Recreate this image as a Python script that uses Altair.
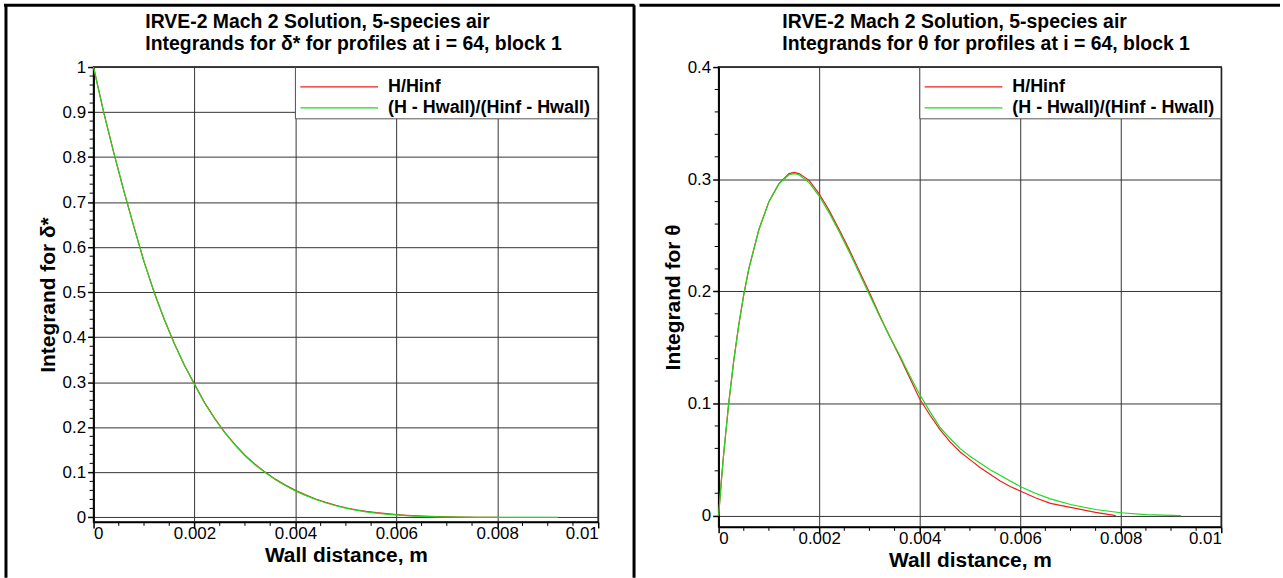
import altair as alt
import pandas as pd

# ---------------- data ----------------
# Left panel: integrand for delta*
left_green_x = [0, 0.0001, 0.0002, 0.0004, 0.0006, 0.0008, 0.001, 0.0012, 0.0014, 0.0016,
                0.0018, 0.002, 0.0022, 0.0024, 0.0026, 0.0028, 0.003, 0.0032, 0.0034, 0.0036,
                0.0038, 0.004, 0.0042, 0.0044, 0.0046, 0.0048, 0.005, 0.0052, 0.0054, 0.0056,
                0.0058, 0.006, 0.0062, 0.0065, 0.0068, 0.0072, 0.0076, 0.008, 0.0085, 0.0092]
left_green_y = [1.0, 0.95, 0.90, 0.81, 0.725, 0.645, 0.568, 0.50, 0.44, 0.386,
                0.338, 0.295, 0.254, 0.219, 0.188, 0.161, 0.137, 0.117, 0.0996, 0.084,
                0.0707, 0.059, 0.049, 0.040, 0.0325, 0.026, 0.0205, 0.016, 0.0125, 0.0096,
                0.0073, 0.0055, 0.004, 0.0025, 0.0014, 0.0006, 0.0002, 0.0001, 0.0, 0.0]
left_red_x = [0, 0.0001, 0.0002, 0.0004, 0.0006, 0.0008, 0.001, 0.0012, 0.0014, 0.0016,
              0.0018, 0.002, 0.0022, 0.0024, 0.0026, 0.0028, 0.003, 0.0032, 0.0034, 0.0036,
              0.0038, 0.004, 0.0042, 0.0044, 0.0046, 0.0048, 0.005, 0.0052, 0.0054, 0.0056,
              0.0058, 0.006, 0.0062, 0.0065, 0.0068, 0.0072, 0.0076, 0.008]
left_red_y = [1.0, 0.95, 0.90, 0.81, 0.725, 0.645, 0.568, 0.50, 0.44, 0.386,
              0.338, 0.296, 0.255, 0.220, 0.189, 0.162, 0.138, 0.118, 0.1006, 0.085,
              0.0717, 0.060, 0.050, 0.041, 0.0335, 0.027, 0.0215, 0.017, 0.0135, 0.0106,
              0.0083, 0.0063, 0.0047, 0.003, 0.0017, 0.0008, 0.0003, 0.0]

# Right panel: integrand for theta
right_green_x = [0, 0.00005, 0.0001, 0.0002, 0.0003, 0.0004, 0.0005, 0.0006, 0.0008, 0.001,
                 0.0012, 0.0014, 0.0015, 0.0016, 0.0018, 0.002, 0.0022, 0.0024, 0.0026, 0.0028,
                 0.003, 0.0032, 0.0034, 0.0036, 0.0038, 0.004, 0.0042, 0.0044, 0.0046, 0.0048,
                 0.005, 0.0052, 0.0054, 0.0056, 0.0058, 0.006, 0.0063, 0.0066, 0.007, 0.0075,
                 0.008, 0.0085, 0.0092]
right_green_y = [0.0, 0.029, 0.055, 0.1, 0.138, 0.17, 0.197, 0.22, 0.255, 0.28,
                 0.296, 0.304, 0.305, 0.304, 0.297, 0.285, 0.27, 0.253, 0.235, 0.216,
                 0.197, 0.178, 0.16, 0.143, 0.125, 0.108, 0.093, 0.079, 0.069, 0.06,
                 0.053, 0.047, 0.041, 0.036, 0.031, 0.026, 0.02, 0.015, 0.01, 0.0055,
                 0.0026, 0.001, 0.0]
right_red_x = [0, 0.00005, 0.0001, 0.0002, 0.0003, 0.0004, 0.0005, 0.0006, 0.0008, 0.001,
               0.0012, 0.0014, 0.0015, 0.0016, 0.0018, 0.002, 0.0022, 0.0024, 0.0026, 0.0028,
               0.003, 0.0032, 0.0034, 0.0036, 0.0038, 0.004, 0.0042, 0.0044, 0.0046, 0.0048,
               0.005, 0.0052, 0.0054, 0.0056, 0.0058, 0.006, 0.0063, 0.0066, 0.007, 0.0075,
               0.0079]
right_red_y = [0.0, 0.029, 0.055, 0.1, 0.138, 0.17, 0.197, 0.22, 0.255, 0.28,
               0.296, 0.305, 0.306, 0.305, 0.299, 0.287, 0.272, 0.255, 0.237, 0.218,
               0.199, 0.179, 0.16, 0.142, 0.123, 0.104, 0.09, 0.077, 0.066, 0.057,
               0.05, 0.043, 0.037, 0.031, 0.026, 0.022, 0.016, 0.011, 0.0074, 0.003,
               0.0]

x_ticks = [0, 0.002, 0.004, 0.006, 0.008, 0.01]
left_y_ticks = [0, 0.1, 0.2, 0.3, 0.4, 0.5, 0.6, 0.7, 0.8, 0.9, 1]
right_y_ticks = [0, 0.1, 0.2, 0.3, 0.4]

legend_labels = ["H/Hinf", "(H - Hwall)/(Hinf - Hwall)"]
series_colors = ["#f01c1c", "#1fd81f"]

left_title = ["IRVE-2 Mach 2 Solution, 5-species air",
              "Integrands for \u03b4* for profiles at i = 64, block 1"]
right_title = ["IRVE-2 Mach 2 Solution, 5-species air",
               "Integrands for \u03b8 for profiles at i = 64, block 1"]
left_ytitle = "Integrand for \u03b4*"
right_ytitle = "Integrand for \u03b8"
x_title = "Wall distance, m"

# ---------------- layout ----------------
FONT = "Liberation Sans"
TOP = 65   # canvas y of both plot areas' top edge


def minor_values(lo, hi, step, majors):
    n = int(round((hi - lo) / step))
    vals = [round(lo + i * step, 6) for i in range(n + 1)]
    return [v for v in vals if all(abs(v - m) > 1e-9 for m in majors)]


def one():
    return pd.DataFrame({"a": [0]})


def panel(gx, gy, rx, ry, ymax, yticks, ytitle, title_lines, W, H, ox, cell, first):
    oy = TOP
    cx0, cx1 = cell            # canvas x extent of this panel's cell

    xs = alt.Scale(domain=[0, 0.01], nice=False, zero=False)
    ys = alt.Scale(domain=[-0.01, ymax], nice=False, zero=False)
    xaxis = alt.Axis(values=x_ticks, format="~g", title=x_title, grid=True,
                     labelPadding=-2, titlePadding=3)
    yaxis = alt.Axis(values=yticks, format="~g", title=ytitle, grid=True,
                     labelPadding=2, titlePadding=4)

    red = pd.DataFrame({"x": rx, "y": ry})
    green = pd.DataFrame({"x": gx, "y": gy})
    red_line = alt.Chart(red).mark_line(color=series_colors[0], strokeWidth=1.2).encode(
        x=alt.X("x:Q", scale=xs, axis=xaxis), y=alt.Y("y:Q", scale=ys, axis=yaxis))
    green_line = alt.Chart(green).mark_line(color=series_colors[1], strokeWidth=1.2).encode(
        x=alt.X("x:Q"), y=alt.Y("y:Q"))

    xm = pd.DataFrame({"v": minor_values(0, 0.01, 0.0005, x_ticks)})
    ym = pd.DataFrame({"v": minor_values(0, ymax, 0.02, yticks)})
    x_minor = alt.Chart(xm).mark_rule(color="black", strokeWidth=1).encode(
        x="v:Q", y=alt.value(H), y2=alt.value(H + 4))
    y_minor = alt.Chart(ym).mark_rule(color="black", strokeWidth=1).encode(
        y="v:Q", x=alt.value(0), x2=alt.value(-4))

    # legend box (top-right corner of the plot, from the 0.004 gridline)
    lx0 = 0.4 * W
    box = alt.Chart(one()).mark_rect(fill="white", stroke=None).encode(
        x=alt.value(lx0 + 0.5), x2=alt.value(W - 1), y=alt.value(1), y2=alt.value(52))
    box_l = alt.Chart(one()).mark_rule(color="#555", strokeWidth=1).encode(
        x=alt.value(lx0), y=alt.value(0), y2=alt.value(52))
    box_b = alt.Chart(one()).mark_rule(color="#555", strokeWidth=1).encode(
        x=alt.value(lx0), x2=alt.value(W), y=alt.value(52))
    leg = []
    for i, (lab, col) in enumerate(zip(legend_labels, series_colors)):
        yy = 20 + 21 * i
        leg.append(alt.Chart(one()).mark_rule(color=col, strokeWidth=1.2).encode(
            x=alt.value(lx0 + 5), x2=alt.value(lx0 + 83), y=alt.value(yy)))
        leg.append(alt.Chart(one()).mark_text(
            text=lab, font=FONT, fontSize=18, fontWeight="bold", align="left",
            baseline="middle", color="black").encode(
            x=alt.value(lx0 + 93), y=alt.value(yy)))

    # two-line title, lines left aligned, block starting ~144 px into the panel
    titles = []
    for i, t in enumerate(title_lines):
        titles.append(alt.Chart(one()).mark_text(
            text=t, font=FONT, fontSize=19.5, fontWeight="bold", align="left",
            baseline="middle", color="black").encode(
            x=alt.value(cx0 + 145 - ox), y=alt.value(20 + 22 * i - oy)))

    # panel frame (canvas coordinates converted to plot-relative pixels)
    if first:
        segs = [(3, 3, cx1 - 1.5, 3),                   # top border
                (5, 3, 5, 578),                         # left border
                (636, 3, 636, 578)]                     # divider
    else:
        segs = [(cx0 + 1.5, 3, cx1, 3)]                 # top border
    frame_layers = []
    for (x1, y1, x2, y2) in segs:
        frame_layers.append(alt.Chart(one()).mark_rule(color="black", strokeWidth=3).encode(
            x=alt.value(x1 - ox), y=alt.value(y1 - oy),
            x2=alt.value(x2 - ox), y2=alt.value(y2 - oy)))
    # invisible anchor fixing the cell's extent (top-left to right edge)
    anchors = [alt.Chart(one()).mark_rule(strokeWidth=0.01, opacity=0).encode(
        x=alt.value(cx0 - ox), y=alt.value(-oy), x2=alt.value(cx1 - ox), y2=alt.value(-oy))]

    return alt.layer(red_line, green_line, x_minor, y_minor, box, box_l, box_b,
                     *leg, *titles, *frame_layers, *anchors).properties(width=W, height=H)


left = panel(left_green_x, left_green_y, left_red_x, left_red_y, 1, left_y_ticks,
             left_ytitle, left_title, 507, 522 - TOP, 93, (0, 638), True)
right = panel(right_green_x, right_green_y, right_red_x, right_red_y, 0.4, right_y_ticks,
              right_ytitle, right_title, 505, 527 - TOP, 719, (638, 1283), False)

chart = alt.hconcat(left, right, spacing=0).properties(
    padding=0, background="white"
).configure_view(
    stroke="black", strokeWidth=1.5
).configure_axis(
    labelFont=FONT, labelFontSize=17, labelColor="black",
    titleFont=FONT, titleFontSize=21, titleFontWeight="bold", titleColor="black",
    domainColor="black", domainWidth=1.5, tickColor="black", tickWidth=1.5, tickSize=6,
    gridColor="#333333", gridWidth=1, gridOpacity=1
)

chart.save("out.html", embed_options={"renderer": "svg", "actions": False})
